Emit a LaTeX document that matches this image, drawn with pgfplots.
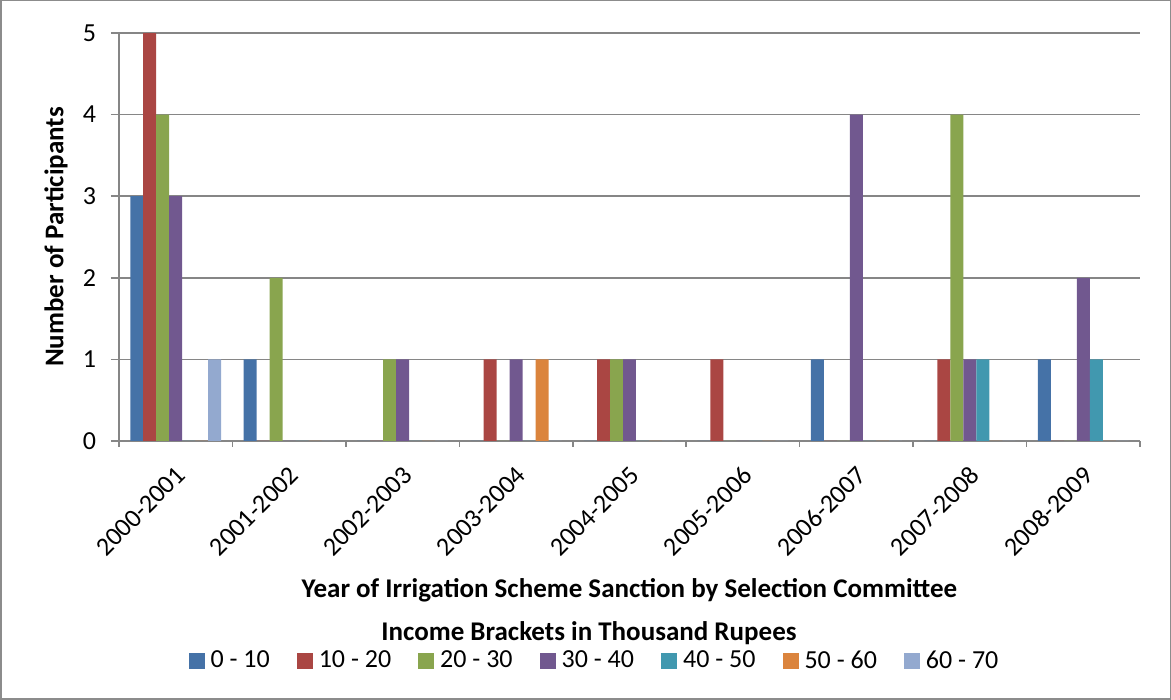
\documentclass[border=0pt]{standalone}
\usepackage{fontspec}
\setmainfont{Carlito}
\usepackage{pgfplots}
\pgfplotsset{compat=1.18}
\usepackage{pgfplotstable}

\definecolor{c1}{HTML}{4572A7}
\definecolor{c2}{HTML}{AA4643}
\definecolor{c3}{HTML}{89A54E}
\definecolor{c4}{HTML}{71588F}
\definecolor{c5}{HTML}{4198AF}
\definecolor{c6}{HTML}{DB843D}
\definecolor{c7}{HTML}{93A9CF}
\definecolor{axisgray}{HTML}{868686}
\definecolor{bordergray}{HTML}{8C8C8C}
\newcommand\chartfont{\fontsize{13}{15.5}\selectfont}
\newcommand\titlefont{\fontsize{13.5}{16}\selectfont\bfseries}

\pgfplotstableread{
x s1 s2 s3 s4 s5 s6 s7
0 3 5 4 3 0 0 1
1 1 0 2 0 0 0 0
2 0 0 1 1 0 0 0
3 0 1 0 1 0 1 0
4 0 1 1 1 0 0 0
5 0 1 0 0 0 0 0
6 1 0 0 4 0 0 0
7 0 1 4 1 1 0 0
8 1 0 0 2 1 0 0
}\datatable

\begin{document}
\begin{tikzpicture}
\useasboundingbox (0pt,0pt) rectangle (585.5pt,350pt);
\draw[bordergray, line width=0.7pt] (0.4pt,0.4pt) rectangle (585.1pt,349.6pt);
\begin{axis}[
  name=ax,
  at={(59.5pt,129.5pt)}, anchor=south west,
  scale only axis, width=510.5pt, height=204pt,
  xmin=-0.5, xmax=8.5, ymin=0, ymax=5,
  ybar=0pt, bar width=0.1145,
  axis x line*=bottom, axis y line*=left,
  axis line style={draw=axisgray, line width=0.8pt},
  ytick={0,1,2,3,4,5},
  ymajorgrids, grid style={axisgray, line width=0.8pt},
  xtick={0,1,2,3,4,5,6,7,8},
  xticklabels={2000-2001,2001-2002,2002-2003,2003-2004,2004-2005,2005-2006,2006-2007,2007-2008,2008-2009},
  minor xtick={-0.5,0.5,1.5,2.5,3.5,4.5,5.5,6.5,7.5,8.5},
  major x tick style={draw=none},
  minor x tick style={draw=axisgray, line width=0.8pt},
  y tick style={draw=axisgray, line width=0.8pt},
  tick align=outside, major tick length=4pt, minor tick length=3pt,
  /pgf/number format/assume math mode=true,
  ticklabel style={font=\chartfont},
  xticklabel style={rotate=45, anchor=east, xshift=-2.5pt, yshift=-9.5pt},
  yticklabel style={xshift=-4pt},
  every axis y label/.style={at={(axis description cs:0,0.5)}, xshift=-31.5pt, rotate=90, anchor=center, font=\titlefont},
  every axis x label/.style={at={(axis description cs:0.5,0)}, yshift=-74.5pt, anchor=center, font=\titlefont},
  ylabel={Number of Participants},
  xlabel={Year of Irrigation Scheme Sanction by Selection Committee},
  legend style={at={(axis description cs:0.4647,-0.539)}, anchor=center,
    draw=none, fill=none, font=\chartfont, legend columns=7,
    nodes={inner sep=0pt},
    /tikz/every odd column/.append style={column sep=3pt},
    /tikz/every even column/.append style={column sep=13.5pt}},
  legend image code/.code={\fill[#1] (0pt,-4pt) rectangle (8pt,4pt);},
]
\addplot[fill=c1, draw=none] table[x=x, y=s1] {\datatable};
\addlegendentry{0 - 10}
\addplot[fill=c2, draw=none] table[x=x, y=s2] {\datatable};
\addlegendentry{10 - 20}
\addplot[fill=c3, draw=none] table[x=x, y=s3] {\datatable};
\addlegendentry{20 - 30}
\addplot[fill=c4, draw=none] table[x=x, y=s4] {\datatable};
\addlegendentry{30 - 40}
\addplot[fill=c5, draw=none] table[x=x, y=s5] {\datatable};
\addlegendentry{40 - 50}
\addplot[fill=c6, draw=none] table[x=x, y=s6] {\datatable};
\addlegendentry{50 - 60}
\addplot[fill=c7, draw=none] table[x=x, y=s7] {\datatable};
\addlegendentry{60 - 70}
\end{axis}
\node[font=\titlefont] at (294.5pt,33.5pt) {Income Brackets in Thousand Rupees};
\end{tikzpicture}
\end{document}
